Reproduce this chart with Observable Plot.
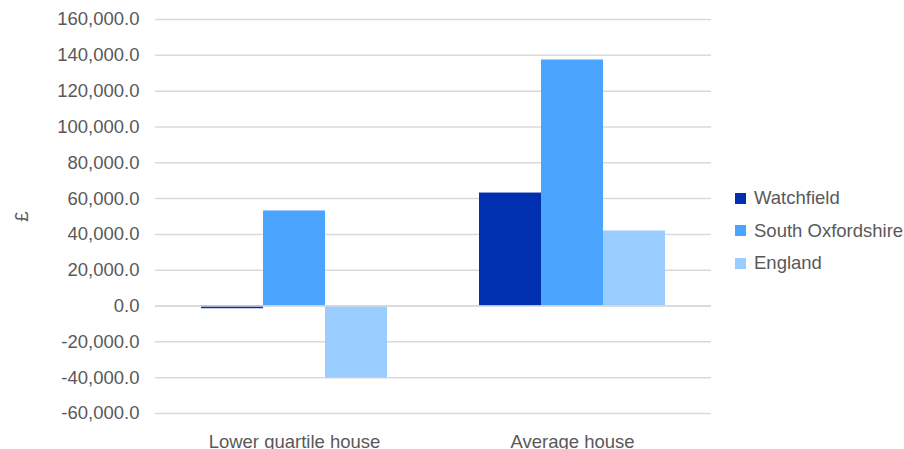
<!DOCTYPE html>
<html>
<head>
<meta charset="utf-8">
<script src="https://cdn.jsdelivr.net/npm/d3@7"></script>
<script src="https://cdn.jsdelivr.net/npm/@observablehq/plot@0.6"></script>
<style>
  html, body { margin: 0; padding: 0; background: #fff; }
  #wrap { position: relative; width: 904px; height: 449px; font-family: "Liberation Sans", Arial, sans-serif; }
  #legend { position: absolute; left: 735px; top: 182px; color: #595959; font-size: 18.5px; }
  .row { display: flex; align-items: center; height: 32.5px; }
  .sw { width: 11px; height: 11px; margin-right: 8px; }
</style>
</head>
<body>
<div id="wrap"></div>
<script>
const categories = ["Lower quartile house", "Average house"];
const seriesNames = ["Watchfield", "South Oxfordshire", "England"];
const watchfield = [-1500, 63100];
const southOxfordshire = [53100, 137400];
const england = [-40200, 41900];
const colors = ["#0030B0", "#4BA5FF", "#99CCFF"];
const yTicks = [-60000, -40000, -20000, 0, 20000, 40000, 60000, 80000, 100000, 120000, 140000, 160000];

const seriesValues = [watchfield, southOxfordshire, england];
const data = [];
categories.forEach((c, i) => {
  seriesNames.forEach((s, j) => data.push({category: c, series: s, value: seriesValues[j][i]}));
});

const fmt = d3.formatLocale({decimal: ".", thousands: ",", grouping: [3], currency: ["£", ""], minus: "-"}).format(",.1f");

const plot = Plot.plot({
  width: 904,
  height: 449,
  marginLeft: 155,
  marginRight: 193,
  marginTop: 19,
  marginBottom: 36,
  style: {fontFamily: "'Liberation Sans', Arial, sans-serif", fontSize: "18.5px", color: "#595959", background: "#fff"},
  fx: {domain: categories, padding: 0, round: false, label: null, tickSize: 0, tickPadding: 21},
  x: {domain: seriesNames, paddingInner: 0, paddingOuter: 0.742, round: false, axis: null},
  y: {domain: [-60000, 160000], ticks: yTicks, tickFormat: fmt, tickSize: 0, tickPadding: 16, label: "£", labelAnchor: "center", labelOffset: 141, labelArrow: "none"},
  color: {domain: seriesNames, range: colors},
  marks: [
    Plot.ruleY(yTicks, {stroke: "#D9D9D9", strokeWidth: 1.5}),
    Plot.barY(data, {fx: "category", x: "series", y: "value", fill: "series", inset: 0}),
    Plot.ruleY([0], {stroke: "#D9D9D9", strokeWidth: 1.5})
  ]
});

const wrap = document.getElementById("wrap");
wrap.appendChild(plot);

const legend = document.createElement("div");
legend.id = "legend";
seriesNames.forEach((s, i) => {
  const row = document.createElement("div");
  row.className = "row";
  const sw = document.createElement("div");
  sw.className = "sw";
  sw.style.background = colors[i];
  const t = document.createElement("span");
  t.textContent = s;
  row.appendChild(sw);
  row.appendChild(t);
  legend.appendChild(row);
});
wrap.appendChild(legend);
</script>
</body>
</html>
